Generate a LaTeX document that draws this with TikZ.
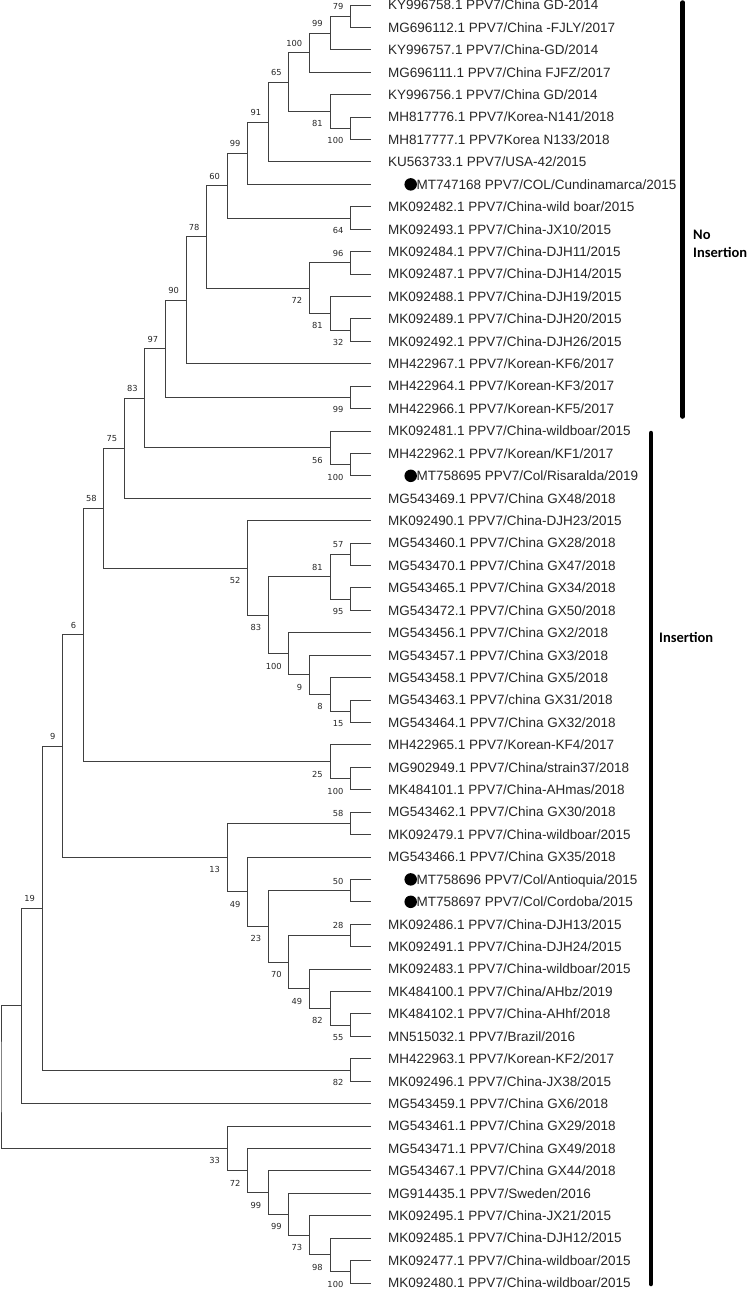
\documentclass[tikz,border=0pt]{standalone}
\usepackage{fontspec}
\setmainfont{Liberation Sans}
\newfontfamily\bsfont{DejaVu Sans}
\newfontfamily\grpfont{Carlito}
\usetikzlibrary{calc}

\tikzset{
  br/.style={draw=black!75, line width=0.9pt},
  leaflab/.style={anchor=west, inner sep=0pt, text=black!85,
    font=\fontsize{13.5}{16}\selectfont, text height=9.7pt, text depth=0pt},
  bs/.style={anchor=east, inner sep=0pt, text=black!85,
    font=\bsfont\fontsize{8.3}{10}\selectfont, text height=6pt, text depth=0pt},
  dot/.style={circle, fill=black, inner sep=0pt, minimum size=12.5pt},
  grpbar/.style={line width=4.5pt, line cap=round, draw=black},
  grp/.style={anchor=west, align=left, inner sep=0pt,
    font=\grpfont\bfseries\fontsize{14.5}{18}\selectfont}
}

\newcommand\mkleaf[3]{%
  \pgfmathsetmacro\tyy{5+(#2-1)*22.42}%
  \expandafter\xdef\csname ny#1\endcsname{\tyy}%
  \coordinate (#1) at (371,\tyy);%
  \node[leaflab] (#1-t) at (388,\tyy) {#3};%
}
\newcommand\mkdotleaf[3]{%
  \pgfmathsetmacro\tyy{5+(#2-1)*22.42}%
  \expandafter\xdef\csname ny#1\endcsname{\tyy}%
  \coordinate (#1) at (371,\tyy);%
  \node[dot] (#1-d) at (410.7,\tyy) {};%
  \node[leaflab] (#1-t) at (416.5,\tyy) {#3};%
}
\newcommand\mkclade[6]{%
  \pgfmathsetmacro\tyy{(\csname ny#3\endcsname+\csname ny#4\endcsname)/2}%
  \expandafter\xdef\csname ny#1\endcsname{\tyy}%
  \pgfmathsetmacro\txx{1+#2*20.56}%
  \coordinate (#1) at (\txx,\tyy);%
  \draw[br] (#3) -| (#1) |- (#4);%
  \node[bs] (#1-b) at ({\txx-7},{\tyy+(#6)}) {#5};%
}

\begin{document}
\begin{tikzpicture}[x=1pt, y=-1pt]
\useasboundingbox (0,0) rectangle (750,1291);

\mkleaf{l1}{1}{KY996758.1 PPV7/China GD-2014}
\mkleaf{l2}{2}{MG696112.1 PPV7/China -FJLY/2017}
\mkleaf{l3}{3}{KY996757.1 PPV7/China-GD/2014}
\mkleaf{l4}{4}{MG696111.1 PPV7/China FJFZ/2017}
\mkleaf{l5}{5}{KY996756.1 PPV7/China GD/2014}
\mkleaf{l6}{6}{MH817776.1 PPV7/Korea-N141/2018}
\mkleaf{l7}{7}{MH817777.1 PPV7Korea N133/2018}
\mkleaf{l8}{8}{KU563733.1 PPV7/USA-42/2015}
\mkdotleaf{l9}{9}{MT747168 PPV7/COL/Cundinamarca/2015}
\mkleaf{l10}{10}{MK092482.1 PPV7/China-wild boar/2015}
\mkleaf{l11}{11}{MK092493.1 PPV7/China-JX10/2015}
\mkleaf{l12}{12}{MK092484.1 PPV7/China-DJH11/2015}
\mkleaf{l13}{13}{MK092487.1 PPV7/China-DJH14/2015}
\mkleaf{l14}{14}{MK092488.1 PPV7/China-DJH19/2015}
\mkleaf{l15}{15}{MK092489.1 PPV7/China-DJH20/2015}
\mkleaf{l16}{16}{MK092492.1 PPV7/China-DJH26/2015}
\mkleaf{l17}{17}{MH422967.1 PPV7/Korean-KF6/2017}
\mkleaf{l18}{18}{MH422964.1 PPV7/Korean-KF3/2017}
\mkleaf{l19}{19}{MH422966.1 PPV7/Korean-KF5/2017}
\mkleaf{l20}{20}{MK092481.1 PPV7/China-wildboar/2015}
\mkleaf{l21}{21}{MH422962.1 PPV7/Korean/KF1/2017}
\mkdotleaf{l22}{22}{MT758695 PPV7/Col/Risaralda/2019}
\mkleaf{l23}{23}{MG543469.1 PPV7/China GX48/2018}
\mkleaf{l24}{24}{MK092490.1 PPV7/China-DJH23/2015}
\mkleaf{l25}{25}{MG543460.1 PPV7/China GX28/2018}
\mkleaf{l26}{26}{MG543470.1 PPV7/China GX47/2018}
\mkleaf{l27}{27}{MG543465.1 PPV7/China GX34/2018}
\mkleaf{l28}{28}{MG543472.1 PPV7/China GX50/2018}
\mkleaf{l29}{29}{MG543456.1 PPV7/China GX2/2018}
\mkleaf{l30}{30}{MG543457.1 PPV7/China GX3/2018}
\mkleaf{l31}{31}{MG543458.1 PPV7/China GX5/2018}
\mkleaf{l32}{32}{MG543463.1 PPV7/china GX31/2018}
\mkleaf{l33}{33}{MG543464.1 PPV7/China GX32/2018}
\mkleaf{l34}{34}{MH422965.1 PPV7/Korean-KF4/2017}
\mkleaf{l35}{35}{MG902949.1 PPV7/China/strain37/2018}
\mkleaf{l36}{36}{MK484101.1 PPV7/China-AHmas/2018}
\mkleaf{l37}{37}{MG543462.1 PPV7/China GX30/2018}
\mkleaf{l38}{38}{MK092479.1 PPV7/China-wildboar/2015}
\mkleaf{l39}{39}{MG543466.1 PPV7/China GX35/2018}
\mkdotleaf{l40}{40}{MT758696 PPV7/Col/Antioquia/2015}
\mkdotleaf{l41}{41}{MT758697 PPV7/Col/Cordoba/2015}
\mkleaf{l42}{42}{MK092486.1 PPV7/China-DJH13/2015}
\mkleaf{l43}{43}{MK092491.1 PPV7/China-DJH24/2015}
\mkleaf{l44}{44}{MK092483.1 PPV7/China-wildboar/2015}
\mkleaf{l45}{45}{MK484100.1 PPV7/China/AHbz/2019}
\mkleaf{l46}{46}{MK484102.1 PPV7/China-AHhf/2018}
\mkleaf{l47}{47}{MN515032.1 PPV7/Brazil/2016}
\mkleaf{l48}{48}{MH422963.1 PPV7/Korean-KF2/2017}
\mkleaf{l49}{49}{MK092496.1 PPV7/China-JX38/2015}
\mkleaf{l50}{50}{MG543459.1 PPV7/China GX6/2018}
\mkleaf{l51}{51}{MG543461.1 PPV7/China GX29/2018}
\mkleaf{l52}{52}{MG543471.1 PPV7/China GX49/2018}
\mkleaf{l53}{53}{MG543467.1 PPV7/China GX44/2018}
\mkleaf{l54}{54}{MG914435.1 PPV7/Sweden/2016}
\mkleaf{l55}{55}{MK092495.1 PPV7/China-JX21/2015}
\mkleaf{l56}{56}{MK092485.1 PPV7/China-DJH12/2015}
\mkleaf{l57}{57}{MK092477.1 PPV7/China-wildboar/2015}
\mkleaf{l58}{58}{MK092480.1 PPV7/China-wildboar/2015}

\mkclade{n12}{17}{l1}{l2}{79}{-9.5}
\mkclade{n123}{16}{n12}{l3}{99}{-9.5}
\mkclade{n1234}{15}{n123}{l4}{100}{-9.5}
\mkclade{n67}{17}{l6}{l7}{100}{12.5}
\mkclade{n567}{16}{l5}{n67}{81}{12.5}
\mkclade{n1to7}{14}{n1234}{n567}{65}{-9.5}
\mkclade{n1to8}{13}{n1to7}{l8}{91}{-9.5}
\mkclade{n1to9}{12}{n1to8}{l9}{99}{-9.5}
\mkclade{n1011}{17}{l10}{l11}{64}{12.5}
\mkclade{n1to11}{11}{n1to9}{n1011}{60}{-9.5}
\mkclade{n1213}{17}{l12}{l13}{96}{-9.5}
\mkclade{n1516}{17}{l15}{l16}{32}{12.5}
\mkclade{n1416}{16}{l14}{n1516}{81}{12.5}
\mkclade{n1216}{15}{n1213}{n1416}{72}{12.5}
\mkclade{n1to16}{10}{n1to11}{n1216}{78}{-9.5}
\mkclade{n1to17}{9}{n1to16}{l17}{90}{-9.5}
\mkclade{n1819}{17}{l18}{l19}{99}{12.5}
\mkclade{n1to19}{8}{n1to17}{n1819}{97}{-9.5}
\mkclade{n2122}{17}{l21}{l22}{100}{12.5}
\mkclade{n2022}{16}{l20}{n2122}{56}{12.5}
\mkclade{n1to22}{7}{n1to19}{n2022}{83}{-9.5}
\mkclade{n1to23}{6}{n1to22}{l23}{75}{-9.5}
\mkclade{n2526}{17}{l25}{l26}{57}{-9.5}
\mkclade{n2728}{17}{l27}{l28}{95}{12.5}
\mkclade{n2528}{16}{n2526}{n2728}{81}{-9.5}
\mkclade{n3233}{17}{l32}{l33}{15}{12.5}
\mkclade{n3133}{16}{l31}{n3233}{8}{12.5}
\mkclade{n3033}{15}{l30}{n3133}{9}{12.5}
\mkclade{n2933}{14}{l29}{n3033}{100}{12.5}
\mkclade{n2533}{13}{n2528}{n2933}{83}{12.5}
\mkclade{n2433}{12}{l24}{n2533}{52}{12.5}
\mkclade{n1to33}{5}{n1to23}{n2433}{58}{-9.5}
\mkclade{n3536}{17}{l35}{l36}{100}{12.5}
\mkclade{n3436}{16}{l34}{n3536}{25}{12.5}
\mkclade{n1to36}{4}{n1to33}{n3436}{6}{-9.5}
\mkclade{n3738}{17}{l37}{l38}{58}{-9.5}
\mkclade{n4041}{17}{l40}{l41}{50}{-9.5}
\mkclade{n4243}{17}{l42}{l43}{28}{-9.5}
\mkclade{n4647}{17}{l46}{l47}{55}{12.5}
\mkclade{n4547}{16}{l45}{n4647}{82}{12.5}
\mkclade{n4447}{15}{l44}{n4547}{49}{12.5}
\mkclade{n4247}{14}{n4243}{n4447}{70}{12.5}
\mkclade{n4047}{13}{n4041}{n4247}{23}{12.5}
\mkclade{n3947}{12}{l39}{n4047}{49}{12.5}
\mkclade{n3747}{11}{n3738}{n3947}{13}{12.5}
\mkclade{n1to47}{3}{n1to36}{n3747}{9}{-9.5}
\mkclade{n4849}{17}{l48}{l49}{82}{12.5}
\mkclade{n1to49}{2}{n1to47}{n4849}{19}{-9.5}
\mkclade{n1to50}{1}{n1to49}{l50}{}{0}
\mkclade{n5758}{17}{l57}{l58}{100}{12.5}
\mkclade{n5658}{16}{l56}{n5758}{98}{12.5}
\mkclade{n5558}{15}{l55}{n5658}{73}{12.5}
\mkclade{n5458}{14}{l54}{n5558}{99}{12.5}
\mkclade{n5358}{13}{l53}{n5458}{99}{12.5}
\mkclade{n5258}{12}{l52}{n5358}{72}{12.5}
\mkclade{n5158}{11}{l51}{n5258}{33}{12.5}
\mkclade{root}{0}{n1to50}{n5158}{}{0}

% group bars and labels
\coordinate (nobar-top) at (682.7,2.5);
\coordinate (nobar-bot) at (682.7,416.5);
\draw[grpbar] (nobar-top) -- (nobar-bot);
\node[grp] (nolab) at (693,244) {No\\Insertion};

\coordinate (insbar-top) at (651,433);
\coordinate (insbar-bot) at (651,1284);
\draw[grpbar] (insbar-top) -- (insbar-bot);
\node[grp] (inslab) at (659,637) {Insertion};
\end{tikzpicture}
\end{document}
